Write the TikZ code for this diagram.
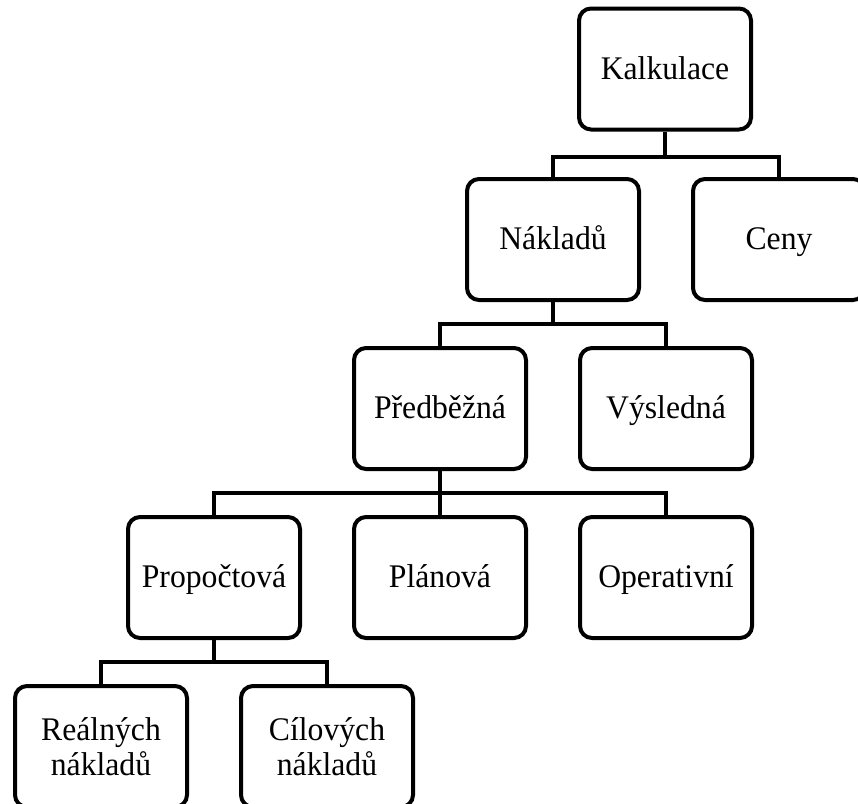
\documentclass[tikz,border=0pt]{standalone}
\usepackage{fontspec}
\setmainfont{Liberation Serif}[FakeStretch=0.96]
\begin{document}
\begin{tikzpicture}[x=1pt,y=-1pt,
  box/.style={draw=black, line width=4pt, rounded corners=12pt,
    minimum width=172pt, minimum height=121pt, inner sep=0pt,
    align=center, font=\fontsize{33}{35}\selectfont, text=black},
  onebox/.style={box, text height=20pt, text depth=0pt},
  link/.style={draw=black, line width=4pt}]
\useasboundingbox (0,0) rectangle (858,803);
\clip (0,0) rectangle (858,803);
\node[onebox] (kalk) at (665,69) {Kalkulace};
\node[onebox] (nakl) at (553,239.5) {Nákladů};
\node[onebox] (ceny) at (779,239.5) {Ceny};
\node[onebox] (pred) at (440,408.5) {Předběžná};
\node[onebox] (vysl) at (666,408.5) {Výsledná};
\node[onebox] (prop) at (214,577.5) {Propočtová};
\node[onebox] (plan) at (440,577.5) {Plánová};
\node[onebox] (oper) at (666,577.5) {Operativní};
\node[box] (real) at (101,746.5) {Reálných\\nákladů};
\node[box] (cil)  at (327,746.5) {Cílových\\nákladů};
\draw[link] (kalk.south) -- ++(0,25) coordinate (k1) -| (nakl.north);
\draw[link] (k1) -| (ceny.north);
\draw[link] (nakl.south) -- ++(0,22) coordinate (n1) -| (pred.north);
\draw[link] (n1) -| (vysl.north);
\draw[link] (pred.south) -- ++(0,22) coordinate (p1) -| (prop.north);
\draw[link] (p1) -| (oper.north);
\draw[link] (p1) -- (plan.north);
\draw[link] (prop.south) -- ++(0,22) coordinate (r1) -| (real.north);
\draw[link] (r1) -| (cil.north);
\end{tikzpicture}
\end{document}
